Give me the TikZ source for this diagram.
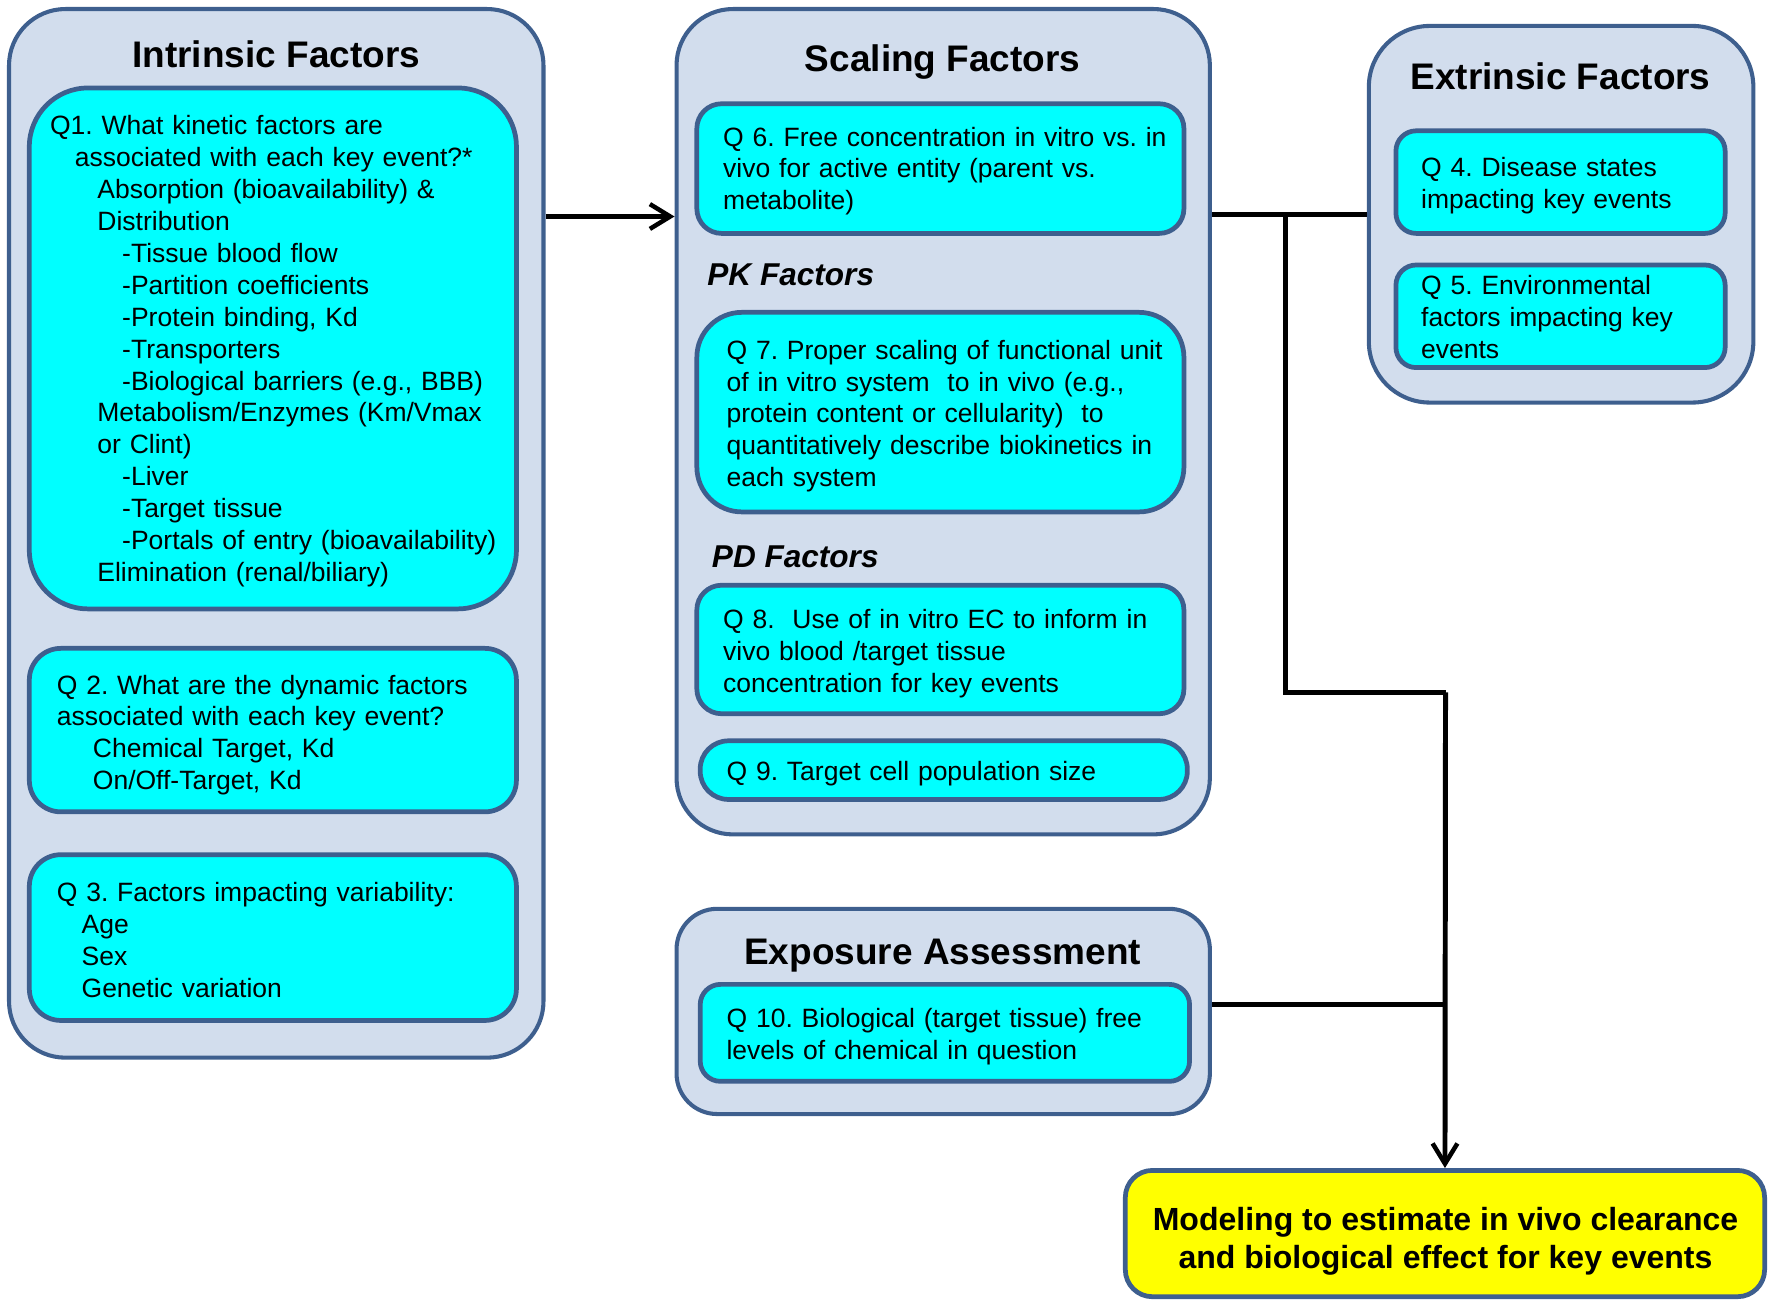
\documentclass[tikz,border=0pt]{standalone}
\usepackage{fontspec}
\setmainfont{Liberation Sans}
\frenchspacing
\usetikzlibrary{fit,arrows.meta}
\definecolor{outerfill}{HTML}{D2DDED}
\definecolor{boxborder}{HTML}{3E5F8E}
\definecolor{qcyan}{HTML}{00FFFF}
\definecolor{qyellow}{HTML}{FFFF00}
\tikzset{
  outerbox/.style={draw=boxborder, line width=1.8pt, fill=outerfill, inner sep=0pt},
  qbox/.style={draw=boxborder, line width=2.1pt, fill=qcyan, inner sep=0pt},
  ybox/.style={draw=boxborder, line width=2.1pt, fill=qyellow, inner sep=0pt, rounded corners=12pt},
  title/.style={font=\bfseries\fontsize{16.4}{19}\selectfont, inner sep=0pt, anchor=base},
  subtitle/.style={font=\bfseries\itshape\fontsize{14}{17}\selectfont, inner sep=0pt, anchor=base west},
  qtext/.style={font=\fontsize{11.75}{14.15}\selectfont, inner sep=0pt, anchor=base west, text width=220pt, align=left},
  conn/.style={draw=black, line width=2.2pt},
  tip/.style={-{Straight Barb[length=9pt,width=11pt,line width=2pt]}}
}
\begin{document}
\begin{tikzpicture}[x=0.5pt,y=-0.5pt]
\useasboundingbox (0,0) rectangle (1568,1153);

% ---------- Intrinsic Factors ----------
\node[outerbox, rounded corners=25pt, fit={(8,8) (482,938)}] (intr) {};
\node[title] (intrt) at (245,60) {Intrinsic Factors};
\node[qbox, rounded corners=26pt, fit={(26,78) (458,540)}] (q1) {};
\node[qtext] (q1t) at (44,119.5) {Q1. What kinetic factors are\\
\hspace*{11pt}associated with each key event?*\\
\hspace*{21pt}Absorption (bioavailability) \&\\
\hspace*{21pt}Distribution\\
\hspace*{32pt}-Tissue blood flow\\
\hspace*{32pt}-Partition coefficients\\
\hspace*{32pt}-Protein binding, Kd\\
\hspace*{32pt}-Transporters\\
\hspace*{32pt}-Biological barriers (e.g., BBB)\\
\hspace*{21pt}Metabolism/Enzymes (Km/Vmax\\
\hspace*{21pt}or Clint)\\
\hspace*{32pt}-Liver\\
\hspace*{32pt}-Target tissue\\
\hspace*{32pt}-Portals of entry (bioavailability)\\
\hspace*{21pt}Elimination (renal/biliary)};

\node[qbox, rounded corners=14pt, fit={(26,575) (458,720)}] (q2) {};
\node[qtext] (q2t) at (50,615.5) {Q 2. What are the dynamic factors\\
associated with each key event?\\
\hspace*{16pt}Chemical Target, Kd\\
\hspace*{16pt}On/Off-Target, Kd};

\node[qbox, rounded corners=14pt, fit={(26,758) (458,905)}] (q3) {};
\node[qtext] (q3t) at (50,799.5) {Q 3. Factors impacting variability:\\
\hspace*{11pt}Age\\
\hspace*{11pt}Sex\\
\hspace*{11pt}Genetic variation};

% ---------- Scaling Factors ----------
\node[outerbox, rounded corners=25pt, fit={(600,8) (1073,740)}] (scal) {};
\node[title] (scalt) at (836,63) {Scaling Factors};
\node[qbox, rounded corners=11pt, fit={(618,92) (1050,207)}] (q6) {};
\node[qtext] (q6t) at (641,129.5) {Q 6. Free concentration in vitro vs. in\\
vivo for active entity (parent vs.\\
metabolite)};
\node[subtitle] (pk) at (627,253) {PK Factors};
\node[qbox, rounded corners=20pt, fit={(618,277) (1050,454)}] (q7) {};
\node[qtext] (q7t) at (644,318.5) {Q 7. Proper scaling of functional unit\\
of in vitro system\ \ to in vivo (e.g.,\\
protein content or cellularity)\ \ to\\
quantitatively describe biokinetics in\\
each system};
\node[subtitle] (pd) at (631,503) {PD Factors};
\node[qbox, rounded corners=11pt, fit={(618,519) (1050,633)}] (q8) {};
\node[qtext] (q8t) at (641,557.5) {Q 8.\ \ Use of in vitro EC to inform in\\
vivo blood /target tissue\\
concentration for key events};
\node[qbox, rounded corners=12.5pt, fit={(621,657) (1053,709)}] (q9) {};
\node[qtext] (q9t) at (644,692.5) {Q 9. Target cell population size};

% ---------- Extrinsic Factors ----------
\node[outerbox, rounded corners=27pt, fit={(1214,23) (1555,357)}] (extr) {};
\node[title] (extrt) at (1384,79) {Extrinsic Factors};
\node[qbox, rounded corners=9pt, fit={(1238,116) (1530,207)}] (q4) {};
\node[qtext] (q4t) at (1260,156.5) {Q 4. Disease states\\
impacting key events};
\node[qbox, rounded corners=9pt, fit={(1238,235) (1530,326)}] (q5) {};
\node[qtext] (q5t) at (1260,261.5) {Q 5. Environmental\\
factors impacting key\\
events};

% ---------- Exposure Assessment ----------
\node[outerbox, rounded corners=18pt, fit={(600,806) (1073,988)}] (expo) {};
\node[title] (expot) at (836,855) {Exposure Assessment};
\node[qbox, rounded corners=9pt, fit={(621,873) (1055,959)}] (q10) {};
\node[qtext] (q10t) at (644,911.5) {Q 10. Biological (target tissue) free\\
levels of chemical in question};

% ---------- Modeling ----------
\node[ybox, fit={(998,1038) (1565,1150)}] (model) {};
\node[inner sep=0pt, align=center, font=\bfseries\fontsize{14.2}{17}\selectfont]
      (modelt) at (1282,1101)
      {Modeling to estimate in vivo clearance\\and biological effect for key events};

% ---------- Connectors ----------
\coordinate (a1) at (482,192);
\coordinate (j1) at (1140,190);
\coordinate (j2) at (1282,614);
\coordinate (j3) at (1282,891);
\draw[conn, tip] (intr.east |- a1) -- (scal.west |- a1);
\draw[conn] (scal.east |- j1) -- (extr.west |- j1);
\draw[conn, line join=miter] (j1) |- (j2);
\draw[conn, tip] (j2) -- (model.north);
\draw[conn] (expo.east |- j3) -- (j3);
\end{tikzpicture}
\end{document}
